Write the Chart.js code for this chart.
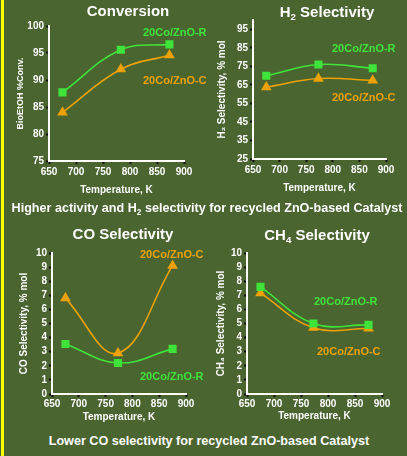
<!DOCTYPE html>
<html>
<head>
<meta charset="utf-8">
<script src="https://cdn.jsdelivr.net/npm/chart.js@4.4.1/dist/chart.umd.min.js"></script>
<style>
  body { margin: 0; background: #4a6530; width: 407px; height: 456px; overflow: hidden; position: relative; font-family: "Liberation Sans", Arial, sans-serif; }
  .bar { position: absolute; left: 1px; top: 0; width: 3px; height: 456px; background: #ffff00; }
  canvas { position: absolute; }
  .t { position: absolute; color: #fff; font-weight: bold; white-space: nowrap; transform: translate(-50%, -50%); }
  .ttl { font-size: 15px; }
  .cap { font-size: 12.6px; }
  .lbl { position: absolute; font-weight: bold; font-size: 11px; white-space: nowrap; transform: translateY(-50%); }
  .g { color: #3fe33a; }
  .o { color: #eea200; }
  sub { font-size: 65%; vertical-align: -3px; line-height: 0; }
</style>
</head>
<body>
<div class="bar"></div>

<canvas id="conv" width="204" height="200" style="left:0;top:0"></canvas>
<canvas id="h2" width="203" height="200" style="left:204px;top:0"></canvas>
<canvas id="co" width="204" height="230" style="left:0;top:200px"></canvas>
<canvas id="ch4" width="203" height="230" style="left:204px;top:200px"></canvas>

<div class="t ttl" style="left:128px;top:10px">Conversion</div>
<div class="t ttl" style="left:327px;top:11px">H<sub>2</sub> Selectivity</div>
<div class="t cap" style="left:207px;top:208px">Higher activity and H<sub>2</sub> selectivity for recycled ZnO-based Catalyst</div>
<div class="t ttl" style="left:123px;top:233px">CO Selectivity</div>
<div class="t ttl" style="left:317px;top:234px">CH<sub>4</sub> Selectivity</div>
<div class="t cap" style="left:209px;top:441px">Lower CO selectivity for recycled ZnO-based Catalyst</div>

<div class="lbl g" style="left:143px;top:32px">20Co/ZnO-R</div>
<div class="lbl o" style="left:143px;top:80px">20Co/ZnO-C</div>
<div class="lbl g" style="left:332px;top:48px">20Co/ZnO-R</div>
<div class="lbl o" style="left:332px;top:97px">20Co/ZnO-C</div>
<div class="lbl o" style="left:140px;top:254px">20Co/ZnO-C</div>
<div class="lbl g" style="left:140px;top:376px">20Co/ZnO-R</div>
<div class="lbl g" style="left:314px;top:301px">20Co/ZnO-R</div>
<div class="lbl o" style="left:317px;top:351px">20Co/ZnO-C</div>

<script>
// temperatures, K
const tempConv = [675, 783, 873];
const tempSel = [675, 773, 875];
const xTicks = [650, 700, 750, 800, 850, 900];

// BioEtOH conversion, %
const convR = [87.7, 95.6, 96.6];
const convC = [84.0, 92.0, 94.6];
// H2 selectivity, % mol
const h2R = [69.9, 76.0, 74.0];
const h2C = [63.8, 68.4, 67.4];
// CO selectivity, % mol
const coR = [3.55, 2.2, 3.2];
const coC = [6.8, 2.9, 9.1];
// CH4 selectivity, % mol
const ch4R = [7.6, 5.0, 4.9];
const ch4C = [7.15, 4.7, 4.65];

const GREEN = '#3fe33a';
const ORANGE = '#eea200';

Chart.defaults.font.family = '"Liberation Sans", Arial, sans-serif';
Chart.defaults.font.weight = 'bold';
Chart.defaults.color = '#ffffff';

function pts(xs, ys) {
    return xs.map((x, i) => ({ x: x, y: ys[i] }));
}

function makeChart(id, o) {
    const canvas = document.getElementById(id);
    const W = canvas.width, H = canvas.height;
    return new Chart(canvas, {
        type: 'line',
        data: {
            datasets: [
                {
                    label: '20Co/ZnO-R',
                    data: pts(o.xs, o.r),
                    borderColor: GREEN,
                    backgroundColor: GREEN,
                    borderWidth: 1.6,
                    pointStyle: 'rect',
                    pointRadius: 4.6,
                    tension: 0.4
                },
                {
                    label: '20Co/ZnO-C',
                    data: pts(o.xs, o.c),
                    borderColor: ORANGE,
                    backgroundColor: ORANGE,
                    borderWidth: 1.6,
                    pointStyle: 'triangle',
                    pointRadius: 4.6,
                    tension: 0.4
                }
            ]
        },
        options: {
            responsive: false,
            animation: false,
            clip: false,
            layout: { padding: { left: 0, top: o.area.t, right: W - o.area.r, bottom: 0 } },
            plugins: { legend: { display: false }, tooltip: { enabled: false } },
            scales: {
                x: {
                    type: 'linear',
                    min: 650, max: 900,
                    afterBuildTicks: s => { s.ticks = xTicks.map(v => ({ value: v })); },
                    afterFit: s => { s.height = H - o.area.b; },
                    grid: { drawOnChartArea: false, drawTicks: true, tickLength: 3, tickWidth: 2, color: '#111' },
                    border: { color: '#ffffff', width: 2 },
                    ticks: { font: { size: 10 }, padding: o.xPad, maxRotation: 0, autoSkip: false },
                    title: { display: true, text: 'Temperature, K', font: { size: 10 }, padding: { top: 0, bottom: o.xtPad } }
                },
                y: {
                    min: o.yMin, max: o.yMax,
                    afterBuildTicks: s => { s.ticks = o.yTicks.map(v => ({ value: v })); },
                    afterFit: s => { s.width = o.area.l; },
                    grid: { drawOnChartArea: false, drawTicks: true, tickLength: 3, tickWidth: 2, color: '#111' },
                    border: { color: '#ffffff', width: 2 },
                    ticks: { font: { size: 10 }, padding: 2, autoSkip: false },
                    title: { display: true, text: o.yTitle, font: { size: o.ytSize }, padding: { top: o.ytPad, bottom: 0 } }
                }
            }
        }
    });
}

makeChart('conv', {
    xs: tempConv, r: convR, c: convC,
    yMin: 75, yMax: 100, yTicks: [75, 80, 85, 90, 95, 100],
    yTitle: 'BioEtOH %Conv.', ytSize: 9, ytPad: 15.3,
    area: { l: 49, t: 26, r: 184, b: 161 }, xPad: 2, xtPad: 4
});

makeChart('h2', {
    xs: tempSel, r: h2R, c: h2C,
    yMin: 25, yMax: 100, yTicks: [25, 35, 45, 55, 65, 75, 85, 95],
    yTitle: 'H\u2082 Selectivity, % mol', ytSize: 10, ytPad: 12.3,
    area: { l: 49, t: 20, r: 182, b: 159 }, xPad: 2, xtPad: 6
});

makeChart('co', {
    xs: tempSel, r: coR, c: coC,
    yMin: 0, yMax: 10, yTicks: [0, 1, 2, 3, 4, 5, 6, 7, 8, 9, 10],
    yTitle: 'CO Selectivity, % mol', ytSize: 10, ytPad: 18,
    area: { l: 52, t: 53, r: 186, b: 194 }, xPad: 1.4, xtPad: 6.7
});

makeChart('ch4', {
    xs: tempSel, r: ch4R, c: ch4C,
    yMin: 0, yMax: 10, yTicks: [0, 1, 2, 3, 4, 5, 6, 7, 8, 9, 10],
    yTitle: 'CH\u2084 Selectivity, % mol', ytSize: 10, ytPad: 11.7,
    area: { l: 43, t: 53, r: 178, b: 194 }, xPad: 1.3, xtPad: 7.3
});
</script>
</body>
</html>
